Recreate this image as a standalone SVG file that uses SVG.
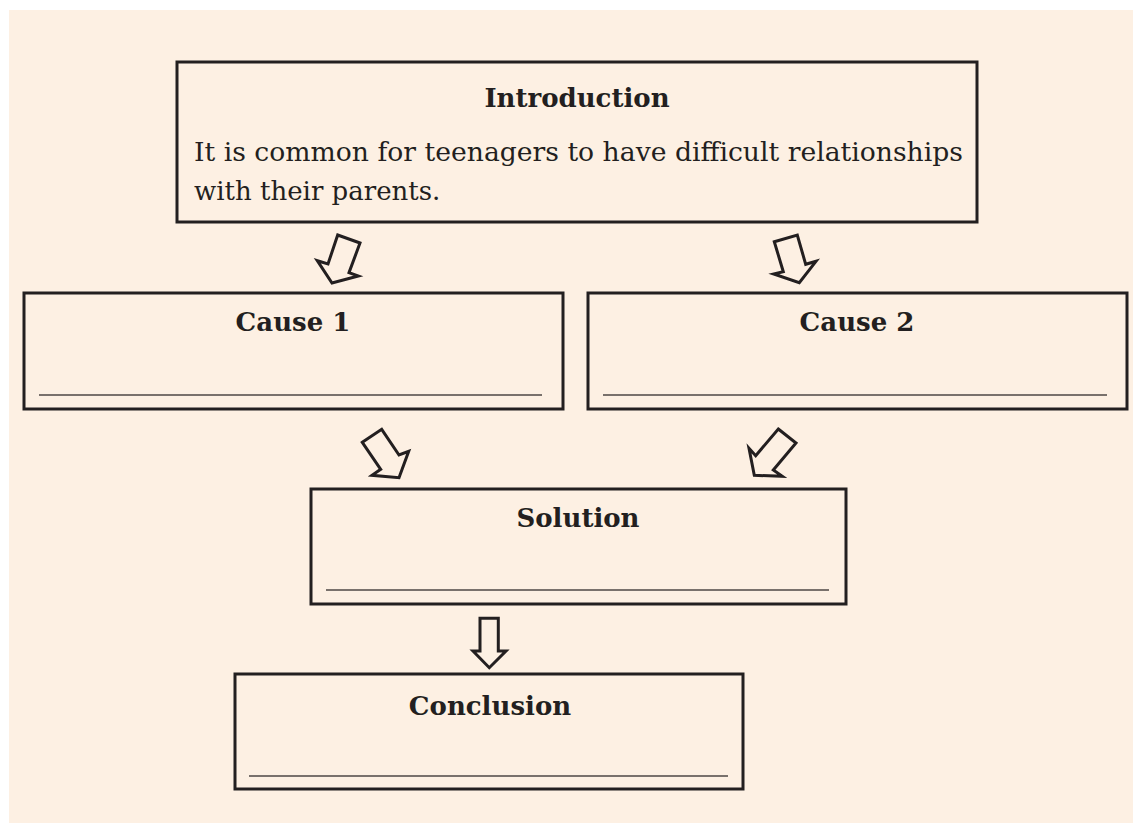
<svg xmlns="http://www.w3.org/2000/svg" width="1133" height="823" viewBox="0 0 1133 823">
<style>
.box{fill:none;stroke:#231f20;stroke-width:3}
.ul{stroke:#4d4745;stroke-width:1.6}
.arr{fill:none;stroke:#231f20;stroke-width:3;stroke-linejoin:miter}
.h{font-family:"DejaVu Serif","Liberation Serif",serif;font-weight:bold;font-size:26px;fill:#231f20;text-anchor:middle}
.t{font-family:"DejaVu Serif","Liberation Serif",serif;font-size:26px;fill:#231f20}
</style>
<rect x="0" y="0" width="1133" height="823" fill="#ffffff"/>
<rect x="9" y="10" width="1124" height="813" fill="#fdf0e3"/>
<g id="intro">
<rect class="box" x="177" y="62" width="800" height="160"/>
<text class="h" x="577" y="107">Introduction</text>
<text class="t" x="194" y="161" textLength="769" lengthAdjust="spacingAndGlyphs">It is common for teenagers to have difficult relationships</text>
<text class="t" x="194" y="200">with their parents.</text>
</g>
<g id="cause1">
<rect class="box" x="24" y="293" width="539" height="116"/>
<text class="h" x="293" y="331">Cause 1</text>
<line class="ul" x1="39" y1="395" x2="542" y2="395"/>
</g>
<g id="cause2">
<rect class="box" x="588" y="293" width="539" height="116"/>
<text class="h" x="857" y="331">Cause 2</text>
<line class="ul" x1="603" y1="395" x2="1107" y2="395"/>
</g>
<g id="solution">
<rect class="box" x="311" y="489" width="535" height="115"/>
<text class="h" x="578" y="527">Solution</text>
<line class="ul" x1="326" y1="590" x2="829" y2="590"/>
</g>
<g id="conclusion">
<rect class="box" x="235" y="674" width="508" height="115"/>
<text class="h" x="490" y="715">Conclusion</text>
<line class="ul" x1="249" y1="776" x2="728" y2="776"/>
</g>
<g id="connectors">
<polygon class="arr" points="337.7,235 360,243 349,272.7 358.3,276 332,283 317.3,260.7 328,264"/>
<polygon class="arr" points="774.3,241.7 797.3,235 805.7,264.3 816,261.3 799.3,282.7 773.7,274 783.3,271.7"/>
<polygon class="arr" points="362.3,442.3 381.7,429.3 399,455 408.7,451.3 399,477.7 372,475.3 380.7,469.3"/>
<polygon class="arr" points="778.3,429 796,443 773.3,470 782.3,476.3 754.3,475.3 749,448.3 755.7,455.7"/>
<polygon class="arr" points="480,618.3 498.3,618.3 498.3,651 506,651 489.3,667.7 473,651 480,651"/>
</g>
</svg>
